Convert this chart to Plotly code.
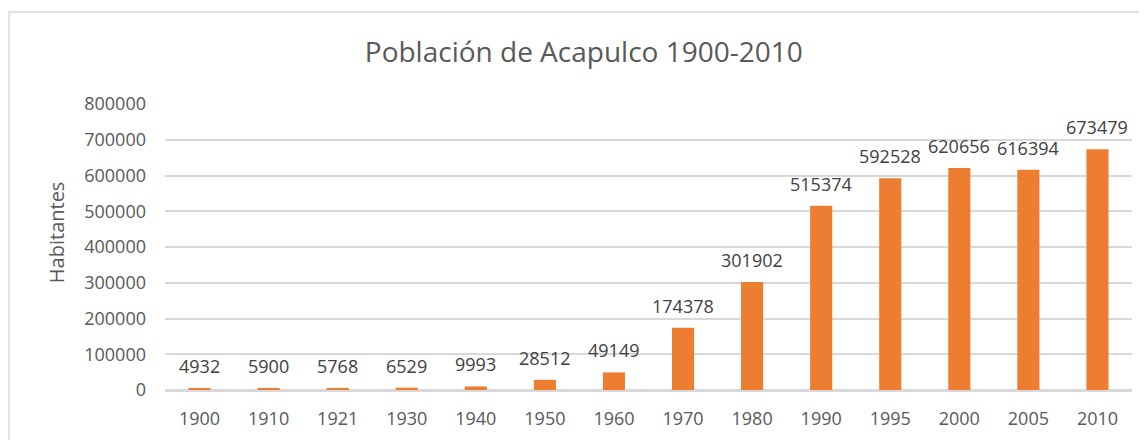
import plotly.graph_objects as go

# Población de Acapulco por censo
years = ["1900", "1910", "1921", "1930", "1940", "1950", "1960",
         "1970", "1980", "1990", "1995", "2000", "2005", "2010"]
habitantes = [4932, 5900, 5768, 6529, 9993, 28512, 49149,
              174378, 301902, 515374, 592528, 620656, 616394, 673479]
y_ticks = [0, 100000, 200000, 300000, 400000, 500000, 600000, 700000, 800000]

FONT = "Open Sans"
GREY = "#595959"

fig = go.Figure()

fig.add_trace(go.Bar(
    x=years,
    y=habitantes,
    marker=dict(color="#ED7D31", line=dict(width=0)),
    hovertemplate="%{x}: %{y}<extra></extra>",
    showlegend=False,
))

# data labels sit a bit higher than plotly's "outside" text, as in Excel
# (x given as category index, years like "1900" would be read as numbers)
for i, val in enumerate(habitantes):
    fig.add_annotation(
        x=i, y=val, text=str(val),
        xanchor="center", yanchor="middle", yshift=22,
        showarrow=False,
        font=dict(family=FONT, size=18, color="#404040"),
    )

# y axis title placed by hand (like Excel)
fig.add_annotation(
    text="Habitantes",
    xref="paper", yref="paper",
    x=-0.1127, y=0.552,
    xanchor="center", yanchor="middle",
    textangle=-90, showarrow=False,
    font=dict(family=FONT, size=20, color=GREY),
)

# chart border
fig.add_shape(
    type="rect", xref="paper", yref="paper",
    x0=-0.1613, x1=1.2, y0=-0.5, y1=1.3217,
    line=dict(color="#D9D9D9", width=1.5),
    layer="below",
)

# the page body has an 8px margin, so offsets are shifted by 8
fig.update_layout(
    width=1147, height=440,
    margin=dict(l=157, r=23, t=96, b=58),
    title=dict(
        text="Población de Acapulco 1900-2010",
        x=0.502, xanchor="center", xref="container",
        y=0.9, yanchor="middle", yref="container",
        font=dict(family=FONT, size=28, color=GREY),
    ),
    bargap=0.68,
    plot_bgcolor="white",
    paper_bgcolor="white",
    xaxis=dict(
        type="category",
        showgrid=False,
        showline=True, linecolor="#D9D9D9", linewidth=1.5,
        ticks="", ticklabelstandoff=12,
        tickfont=dict(family=FONT, size=18, color=GREY),
    ),
    yaxis=dict(
        range=[0, 800000],
        tickmode="array", tickvals=y_ticks,
        ticktext=[str(v) for v in y_ticks],
        showgrid=True, gridcolor="#D9D9D9", gridwidth=1.5,
        zeroline=True, zerolinecolor="#D9D9D9", zerolinewidth=1.5,
        ticks="", ticklabelstandoff=18,
        tickfont=dict(family=FONT, size=18, color=GREY),
    ),
)

fig.write_html("out.html")
